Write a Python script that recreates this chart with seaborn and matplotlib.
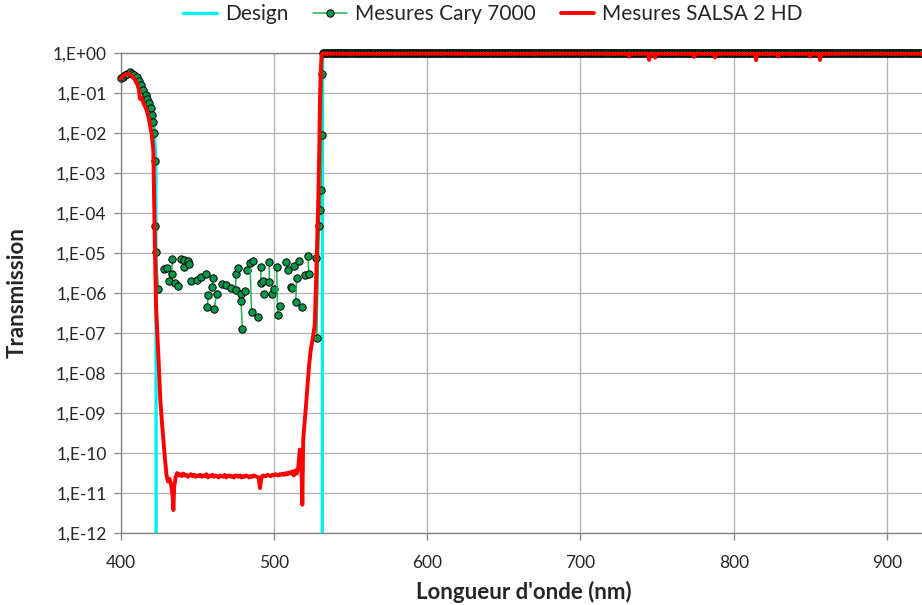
import numpy as np
import pandas as pd
import matplotlib
matplotlib.use("Agg")
import matplotlib.pyplot as plt
import matplotlib.ticker as mticker
from matplotlib.lines import Line2D
import seaborn as sns

# --- Design (theoretical transmission) ---
design_nm = [400, 402, 404, 406, 408, 410, 412, 414, 416, 418, 419.5, 421, 422, 422.7, 423.1, 423.3,
             531.6, 531.8, 923]
design_T = [0.25, 0.29, 0.32, 0.32, 0.29, 0.25, 0.2, 0.16, 0.12, 0.08, 0.05, 0.025, 0.012, 0.004, 1e-3, 1e-14,
            1e-14, 1.0, 1.0]

# --- Cary 7000 measurement: points sharing a group are joined by a line ---
cary_nm = [400, 401.5, 403, 404.5, 406, 407.5, 409, 410.5, 412, 413.5, 415, 416.5, 417.5, 418.8, 419.9,
           420.7, 421.2, 421.6, 422.2, 422.6, 423.3, 424.7,
           428.6, 430.1, 433.8, 433.4, 431.8, 435.6, 437.7,
           439.3, 441.6, 441.6, 443.8, 444.9,
           446.0, 450.1, 452.5, 455.6,
           460.5, 459.5, 462.8, 461.0, 457.3, 456.6,
           466.0, 468.6, 471.9, 475.3, 475.1, 476.8, 478.4, 478.6, 479.5, 481.2,
           482.7, 484.5, 485.5, 486.6, 489.7,
           491.5, 491.7, 493.2, 493.6, 496.9, 497.1, 498.8, 500.3, 501.9, 502.5, 504.0,
           508.0, 509.5, 513.2, 516.6, 511.2, 511.8, 514.9, 514.3, 518.2, 520.4, 522.1, 523.0,
           527.3, 528.0, 529.7, 530.3, 530.8, 531.2, 531.6]
cary_T = [0.23, 0.25, 0.28, 0.30, 0.32, 0.30, 0.28, 0.24, 0.20, 0.16, 0.12, 0.089, 0.071, 0.056, 0.041,
          0.028, 0.018, 0.010, 0.002, 4.7e-5, 1.05e-5, 1.26e-6,
          3.9e-6, 4.2e-6, 6.8e-6, 3.0e-6, 2.0e-6, 1.7e-6, 1.5e-6,
          6.8e-6, 6.6e-6, 4.5e-6, 6.3e-6, 5.1e-6,
          2.0e-6, 2.1e-6, 2.5e-6, 3.0e-6,
          2.3e-6, 1.35e-6, 9.5e-7, 3.9e-7, 8.7e-7, 4.3e-7,
          1.66e-6, 1.6e-6, 1.3e-6, 3.0e-6, 1.17e-6, 4.1e-6, 9.1e-7, 6.2e-7, 1.23e-7, 1.12e-6,
          3.8e-6, 5.4e-6, 3.3e-7, 6.3e-6, 2.4e-7,
          4.5e-6, 1.7e-6, 2.0e-6, 9.5e-7, 5.9e-6, 1.86e-6, 9.5e-7, 1.26e-6, 4.5e-6, 2.7e-7, 4.7e-7,
          5.9e-6, 3.8e-6, 4.7e-6, 6.3e-6, 1.4e-6, 1.3e-6, 2.3e-6, 5.9e-7, 4.3e-7, 2.75e-6, 8.3e-6, 3.0e-6,
          7.2e-6, 7.2e-8, 4.7e-5, 1.2e-4, 3.8e-4, 8.7e-3, 0.30]
cary_grp = [0] * 22 + [1, 2, 3, 3, 4, 5, 6,
                       7, 8, 8, 9, 10,
                       11, 12, 13, 14,
                       15, 15, 16, 16, 17, 17,
                       18, 19, 20, 21, 21, 22, 23, 24, 24, 25,
                       26, 27, 27, 28, 29,
                       30, 30, 31, 32, 33, 33, 34, 35, 36, 36, 37,
                       38, 39, 40, 41, 42, 43, 44, 44, 45, 46, 47, 47,
                       48, 48, 48, 48, 48, 48, 48]
cary_pass_nm = np.arange(532, 924, 1)
cary_pass_level = 1.0

# --- SALSA 2 HD measurement ---
salsa_left_nm = [400, 401, 402, 403, 404, 405, 406, 407, 408, 409, 410, 411, 412, 412.7, 413.5, 415, 417,
                 418.5, 420.4, 421.4, 421.8, 422.5, 423.2, 424, 425, 426, 427, 428, 429, 430, 431, 432,
                 433, 434, 434.5, 435]
salsa_left_T = [0.22, 0.25, 0.27, 0.28, 0.29, 0.30, 0.29, 0.27, 0.25, 0.22, 0.19, 0.16, 0.12, 0.07, 0.075,
                0.055, 0.037, 0.022, 0.0087, 0.0037, 4.5e-4, 1e-5, 4.5e-7, 1e-7, 1.5e-8, 2e-9, 6e-10,
                2e-10, 7e-11, 2.8e-11, 1.9e-11, 2.2e-11, 1.6e-11, 8e-12, 3.7e-12, 1.4e-11]
salsa_stop_nm = np.arange(436, 517, 1)
salsa_stop_T = np.array([2.5, 3.1, 2.7, 2.9, 2.6, 3.0, 2.7, 2.8, 2.5, 2.7, 2.9, 2.6, 2.8, 2.5, 2.7, 2.6,
                         2.8, 2.5, 2.7, 2.6, 2.9, 2.4, 2.7, 2.6, 2.8, 2.5, 2.7, 2.6, 2.4, 2.7, 2.6, 2.5,
                         2.8, 2.4, 2.6, 2.7, 2.5, 2.6, 2.4, 2.7, 2.6, 2.5, 2.7, 2.4, 2.6, 2.5, 2.7, 2.6,
                         2.4, 2.6, 2.5, 2.7, 2.6, 2.5, 2.4, 1.3, 2.5, 2.7, 2.6, 2.6, 2.8, 2.7, 2.6, 2.8,
                         2.7, 2.9, 2.8, 2.7, 2.9, 2.8, 3.0, 2.8, 3.1, 2.9, 3.2, 3.0, 3.4, 2.7, 3.6, 3.0,
                         4.5]) * 1e-11
salsa_right_nm = [517, 517.8, 518.6, 519.2, 520, 521, 522, 523, 524, 525, 526, 526.7, 527.5, 528.3, 529,
                  529.6, 530.1, 530.6, 531.2, 532, 560, 600, 640, 700, 731, 731.7, 732.4, 744, 744.8,
                  745.6, 748, 748.7, 749.4, 773.4, 774.1, 774.8, 787, 787.8, 788.6, 814, 814.6, 815.2,
                  828.3, 829, 829.7, 849, 849.8, 850.5, 855.6, 856.3, 857, 880, 923]
salsa_right_T = [1.2e-10, 9e-11, 5e-12, 2.2e-10, 5e-10, 1.5e-9, 5e-9, 1.5e-8, 3.5e-8, 6e-8, 1e-7, 1.6e-7,
                 1.5e-6, 2e-5, 2e-4, 3e-3, 6e-2, 0.35, 0.9, 0.95, 0.94, 0.95, 0.94, 0.95, 0.94, 0.8, 0.94,
                 0.95, 0.66, 0.94, 0.94, 0.75, 0.94, 0.94, 0.78, 0.94, 0.94, 0.76, 0.94, 0.94, 0.65, 0.94,
                 0.94, 0.8, 0.94, 0.94, 0.8, 0.94, 0.94, 0.66, 0.94, 0.95, 0.94]

yticks = [10.0 ** k for k in range(-12, 1)]
xticks = [400, 500, 600, 700, 800, 900]

cyan = "#00f0f0"
green_line = "#20b05a"
green_fill = "#00994c"

sns.set_style("white")
plt.rcParams["font.family"] = ["Lato", "DejaVu Sans"]

cary_df = pd.DataFrame({
    "nm": list(cary_nm) + list(cary_pass_nm),
    "T": list(cary_T) + [cary_pass_level] * len(cary_pass_nm),
    "grp": list(cary_grp) + [48] * len(cary_pass_nm),
})
salsa_df = pd.DataFrame({
    "nm": list(salsa_left_nm) + list(salsa_stop_nm) + list(salsa_right_nm),
    "T": list(salsa_left_T) + list(salsa_stop_T) + list(salsa_right_T),
})
design_df = pd.DataFrame({"nm": design_nm, "T": design_T})

fig = plt.figure(figsize=(9.22, 6.05), dpi=100)
ax = fig.add_axes([120.5 / 922, 1 - 532.7 / 605, 1 - 120.5 / 922, 480 / 605])
ax.set_yscale("log")

sns.lineplot(data=design_df, x="nm", y="T", ax=ax, color=cyan, lw=2.4,
             estimator=None, sort=False, legend=False, zorder=3)
sns.lineplot(data=cary_df, x="nm", y="T", units="grp", estimator=None, ax=ax,
             color=green_line, lw=1.1, marker="o", markersize=5.3,
             markerfacecolor=green_fill, markeredgecolor="black", markeredgewidth=0.7,
             clip_on=False, legend=False, zorder=4)
sns.lineplot(data=salsa_df, x="nm", y="T", ax=ax, color="#ff0000", lw=2.8,
             estimator=None, sort=False, legend=False, zorder=5, clip_on=False)

ax.set_xlim(400, 922.8)
ax.set_ylim(1e-12, 1)
ax.set_yticks(yticks)
ax.yaxis.set_minor_locator(mticker.NullLocator())
ax.yaxis.set_major_formatter(mticker.FuncFormatter(
    lambda v, p: "1,E{:+03d}".format(int(round(np.log10(v))))))
ax.set_xticks(xticks)

ax.grid(True, color="#b4b4b4", lw=1)
for side in ["left", "bottom", "top"]:
    ax.spines[side].set_color("#868686")
    ax.spines[side].set_linewidth(1)
ax.spines["right"].set_visible(False)
ax.tick_params(axis="both", which="major", bottom=True, left=True, direction="out",
               length=5, width=1, color="#868686", labelsize=12.5, pad=5)
ax.tick_params(axis="x", pad=11)

ax.set_xlabel("Longueur d'onde (nm)", fontsize=16, fontweight="bold")
ax.set_ylabel("Transmission", fontsize=16, fontweight="bold")
ax.xaxis.set_label_coords(0.5034, -0.1)
ax.yaxis.set_label_coords(-0.1154, 0.5)

handles = [
    Line2D([], [], color=cyan, lw=2.4),
    Line2D([], [], color=green_line, lw=1.1, marker="o", markersize=5.3,
           markerfacecolor=green_fill, markeredgecolor="black", markeredgewidth=0.7),
    Line2D([], [], color="#ff0000", lw=2.8),
]
labels = ["Design", "Mesures Cary 7000", "Mesures SALSA 2 HD"]
fig.legend(handles, labels, loc="center", bbox_to_anchor=(0.5347, 0.977), ncol=3,
           frameon=False, fontsize=15, handlelength=1.6, handletextpad=0.4, columnspacing=1.2)

fig.savefig("out.png", dpi=100)
